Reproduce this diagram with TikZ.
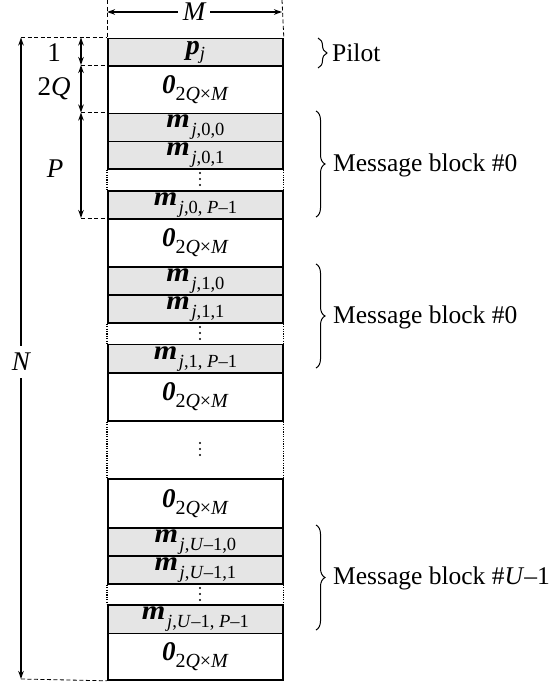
\documentclass[tikz,border=0pt]{standalone}
\usepackage{fontspec}
\setmainfont{Liberation Serif}
\usetikzlibrary{arrows.meta,decorations.pathreplacing}
\definecolor{cellgray}{HTML}{E5E5E5}
\newcommand{\mlab}[1]{{\fontsize{27}{27}\selectfont\bfseries\itshape\scalebox{1.12}[1]{m}}\,\raisebox{-8pt}{\fontsize{18.5}{18.5}\selectfont #1}}
\newcommand{\zlab}{{\fontsize{27}{27}\selectfont\bfseries\itshape 0}\raisebox{-7pt}{\fontsize{20}{20}\selectfont 2\textit{Q}×\textit{M}}}
\newcommand{\plab}{{\fontsize{28}{28}\selectfont\bfseries\itshape p}\raisebox{-5pt}{\fontsize{18.5}{18.5}\selectfont\itshape j}}
\begin{document}
\begin{tikzpicture}[x=1pt,y=-1pt,
  cell/.style={draw=black,line width=1.8pt,minimum width=175pt,inner sep=0pt,anchor=north west},
  gcell/.style={cell,fill=cellgray},
  dimarrow/.style={line width=1.3pt,{Stealth[length=8pt,width=5.5pt]}-{Stealth[length=8pt,width=5.5pt]}},
  onearrow/.style={line width=1.3pt,-{Stealth[length=8pt,width=5.5pt]}},
  guide/.style={dashed,line width=0.8pt,dash pattern=on 4pt off 2.5pt},
  dotside/.style={line width=1.1pt,dash pattern=on 1.2pt off 1.2pt},
  lbl/.style={font=\fontsize{27}{27}\selectfont\itshape,inner sep=1pt},
  rtxt/.style={font=\fontsize{25.5}{25.5}\selectfont,anchor=west,inner sep=0pt},
  brc/.style={decorate,decoration={brace,amplitude=9pt},line width=1pt}]
\useasboundingbox (0,0) rectangle (550,683);
% rows
\node[gcell,minimum height=27.5pt] (pil) at (107,37.5) {\plab};
\node[cell,minimum height=47.5pt] (z1) at (107,65) {\zlab};
\node[gcell,minimum height=28pt] (m000) at (107,112.5) {\mlab{\textit{j},0,0}};
\node[gcell,minimum height=27.5pt] (m001) at (107,140.5) {\mlab{\textit{j},0,1}};
\node[gcell,minimum height=28pt] (m00P) at (107,190) {\mlab{\textit{j},0, \textit{P}–1}};
\node[cell,minimum height=48pt] (z2) at (107,218) {\zlab};
\node[gcell,minimum height=28pt] (m110) at (107,266) {\mlab{\textit{j},1,0}};
\node[gcell,minimum height=28pt] (m111) at (107,294) {\mlab{\textit{j},1,1}};
\node[gcell,minimum height=28.5pt] (m11P) at (107,343.5) {\mlab{\textit{j},1, \textit{P}–1}};
\node[cell,minimum height=48pt] (z3) at (107,372) {\zlab};
\node[cell,minimum height=49pt] (z4) at (107,478) {\zlab};
\node[gcell,minimum height=28pt] (mU0) at (107,527) {\mlab{\textit{j},\textit{U}–1,0}};
\node[gcell,minimum height=28pt] (mU1) at (107,555) {\mlab{\textit{j},\textit{U}–1,1}};
\node[gcell,minimum height=28.5pt] (mUP) at (107,604) {\mlab{\textit{j},\textit{U}–1, \textit{P}–1}};
\node[cell,minimum height=46.5pt] (z5) at (107,632.5) {\zlab};
% dotted gaps
\foreach \a/\b in {m001/m00P,m111/m11P,z3/z4,mU1/mUP}{
  \draw[dotside] (\a.south west) -- (\b.north west);
  \draw[dotside] (\a.south east) -- (\b.north east);
}
\foreach \y in {173,179,185, 327,333,339, 443,449,455, 588,594,600}{
  \fill (200,\y) circle (1.2pt);
}
% M dimension
\coordinate (mL) at (107,12);
\coordinate (mR) at (282,12);
\node[lbl,inner sep=5pt] (Mlab) at (194,12) {M};
\draw[guide] (107,0) -- (pil.north west);
\draw[guide] (282,0) -- (pil.north east);
\draw[onearrow] (Mlab) -- (mL);
\draw[onearrow] (Mlab) -- (mR);
% N dimension
\coordinate (nT) at (21,37.5);
\coordinate (nB) at (21,679);
\node[lbl,inner sep=7pt] (Nlab) at (21,362) {N};
\draw[onearrow] (Nlab) -- (nT);
\draw[onearrow] (Nlab) -- (nB);
\draw[guide] (nT) -- (pil.north west);
\draw[guide] (nB) -- (z5.south west);
% small dimensions
\coordinate (d0) at (81,37.5);
\coordinate (d1) at (81,65);
\coordinate (d2) at (81,112.5);
\coordinate (d3) at (81,218);
\draw[dimarrow] (d0) -- (d1);
\draw[dimarrow] (d1) -- (d2);
\draw[dimarrow] (d2) -- (d3);
\draw[guide] (d1) -- (z1.north west);
\draw[guide] (d2) -- (m000.north west);
\draw[guide] (d3) -- (z2.north west);
\node[font=\fontsize{27}{27}\selectfont,inner sep=0pt] (one) at (54,53) {1};
\node[lbl] (twoq) at (54,89) {\upshape 2\itshape Q};
\node[lbl] (plab) at (55,169) {P};
% braces
\draw[brc] (318,38) -- (318,68);
\node[rtxt] (pt) at (332,53) {Pilot};
\draw[brc] (316,111) -- (316,217);
\node[rtxt] (mb0) at (333,165) {Message block \#0};
\draw[brc] (316,264) -- (316,368);
\node[rtxt] (mb1) at (333,317) {Message block \#0};
\draw[brc] (316,525) -- (316,630);
\node[rtxt] (mbU) at (333,578) {Message block \#\textit{U}–1};
\end{tikzpicture}
\end{document}
